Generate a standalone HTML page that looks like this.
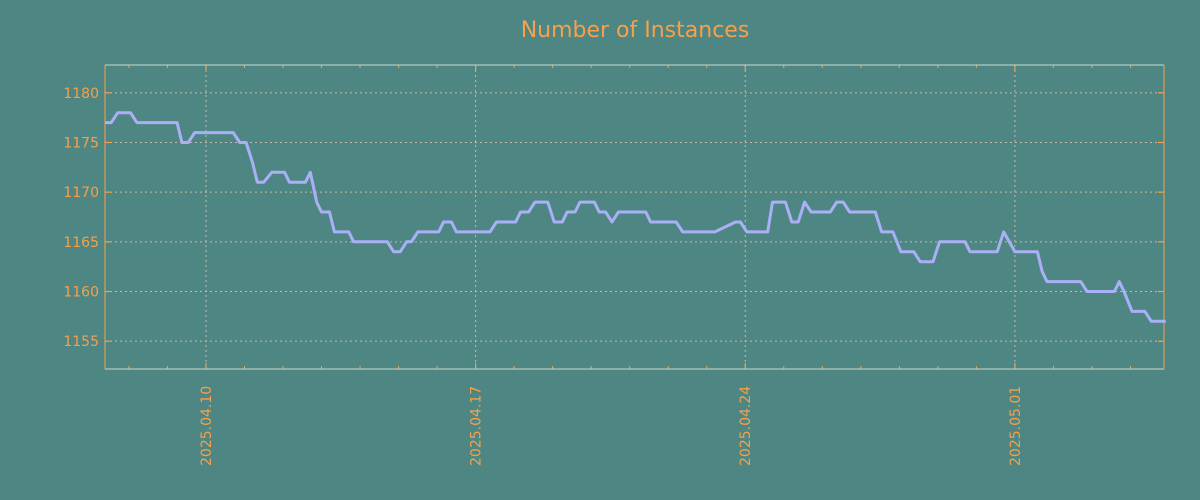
<!DOCTYPE html>
<html><head><meta charset="utf-8"><style>
html,body{margin:0;padding:0;background:#4e8684;}
svg{display:block;font-family:"DejaVu Sans","Liberation Sans",sans-serif;}
</style></head><body>
<svg width="1200" height="500" viewBox="0 0 1200 500">
<rect width="1200" height="500" fill="#4e8684"/>
<text x="635" y="37" text-anchor="middle" font-size="22" fill="#f5a14c">Number of Instances</text>
<g id="grid"></g><g id="axes"></g><g id="series"></g>
</svg>
<script>
// hours relative to 2025.04.10 00:00
const hours=[-63,-59,-55,-47,-43,-18,-15,-11,-7,17,21,25,29,32,36,41,49,52,62,65,69,72,77,80,89,92,113,117,121,125,128,132,145,148,153,156,177,181,193,196,201,205,213,217,222,225,230,233,242,245,249,253,257,274,277,293,297,317,330,333,337,350,353,361,365,369,373,377,389,393,397,401,417,421,428,433,441,445,453,457,473,476,493,497,504,518,521,524,545,549,566,569,572,577,585,589,598];
const values=[1177,1177,1178,1178,1177,1177,1175,1175,1176,1176,1175,1175,1173,1171,1171,1172,1172,1171,1171,1172,1169,1168,1168,1166,1166,1165,1165,1164,1164,1165,1165,1166,1166,1167,1167,1166,1166,1167,1167,1168,1168,1169,1169,1167,1167,1168,1168,1169,1169,1168,1168,1167,1168,1168,1167,1167,1166,1166,1167,1167,1166,1166,1169,1169,1167,1167,1169,1168,1168,1169,1169,1168,1168,1166,1166,1164,1164,1163,1163,1165,1165,1164,1164,1166,1164,1164,1162,1161,1161,1160,1160,1161,1160,1158,1158,1157,1157];
const yTicks=[1155,1160,1165,1170,1175,1180];
const xTickLabels=["2025.04.10","2025.04.17","2025.04.24","2025.05.01"];
const xTickDays=[0,7,14,21];
const minorDays=[-2,-1,1,2,3,4,5,6,8,9,10,11,12,13,15,16,17,18,19,20,22,23,24];

const L=105,R=1164,T=65,B=369;
const xMin=-62.9,xMax=596.9,yMin=1152.2,yMax=1182.8;
const X=h=>L+(h-xMin)/(xMax-xMin)*(R-L);
const Y=v=>B-(v-yMin)/(yMax-yMin)*(B-T);
const NS="http://www.w3.org/2000/svg";
function mk(tag,attrs,parent){const e=document.createElementNS(NS,tag);for(const k in attrs)e.setAttribute(k,attrs[k]);parent.appendChild(e);return e;}
const grid=document.getElementById('grid'),axes=document.getElementById('axes'),series=document.getElementById('series');
const orange="#f5a14c",gridc="#c8b8a8";

yTicks.forEach(v=>{
  const y=Y(v);
  const g=mk('line',{x1:L,x2:R,y1:y,y2:y,stroke:gridc,'stroke-width':1,'stroke-dasharray':'2,3'},grid);
  
  
  const t=mk('line',{x1:L,x2:L+6,y1:y,y2:y,stroke:orange,'stroke-width':1.2},axes);
  
  
  const t2=mk('line',{x1:R-6,x2:R,y1:y,y2:y,stroke:orange,'stroke-width':1.2},axes);
  
  
  const lb=mk('text',{x:L-6,y:y+5,'text-anchor':'end','font-size':14,fill:orange},axes);
  lb.textContent=v;
  
  
});
xTickDays.forEach((d,i)=>{
  const x=X(d*24);
  const g=mk('line',{x1:x,x2:x,y1:T,y2:B,stroke:gridc,'stroke-width':1,'stroke-dasharray':'2,3'},grid);
  
  
  const t=mk('line',{x1:x,x2:x,y1:B-6,y2:B,stroke:orange,'stroke-width':1.2},axes);
  
  
  const t2=mk('line',{x1:x,x2:x,y1:T,y2:T+6,stroke:orange,'stroke-width':1.2},axes);
  
  
  const lb=mk('text',{transform:`translate(${x+5},${B+97}) rotate(-90)`,'text-anchor':'start','font-size':14,fill:orange},axes);
  lb.textContent=xTickLabels[i];
  
  
});
minorDays.forEach(d=>{
  const x=X(d*24);
  if(x<L||x>R)return;
  const t=mk('line',{x1:x,x2:x,y1:B-3,y2:B,stroke:orange,'stroke-width':1},axes);
  
  
  const t2=mk('line',{x1:x,x2:x,y1:T,y2:T+3,stroke:orange,'stroke-width':1},axes);
  
  
});
const fr=[['top',L,T,R,T,'#c8d8d0'],['bottom',L,B,R,B,'#c8d8d0'],['left',L,T,L,B,orange],['right',R,T,R,B,orange]];
fr.forEach(f=>{
  const s=mk('line',{x1:f[1],y1:f[2],x2:f[3],y2:f[4],stroke:f[5],'stroke-width':1},axes);
  
  
});
const d=hours.map((h,i)=>(i?'L':'M')+X(h).toFixed(1)+','+Y(values[i]).toFixed(1)).join('');
const p=mk('path',{d:d,fill:'none',stroke:'#aab0f6','stroke-width':3,'stroke-linejoin':'round'},series);


</script>
</body></html>
